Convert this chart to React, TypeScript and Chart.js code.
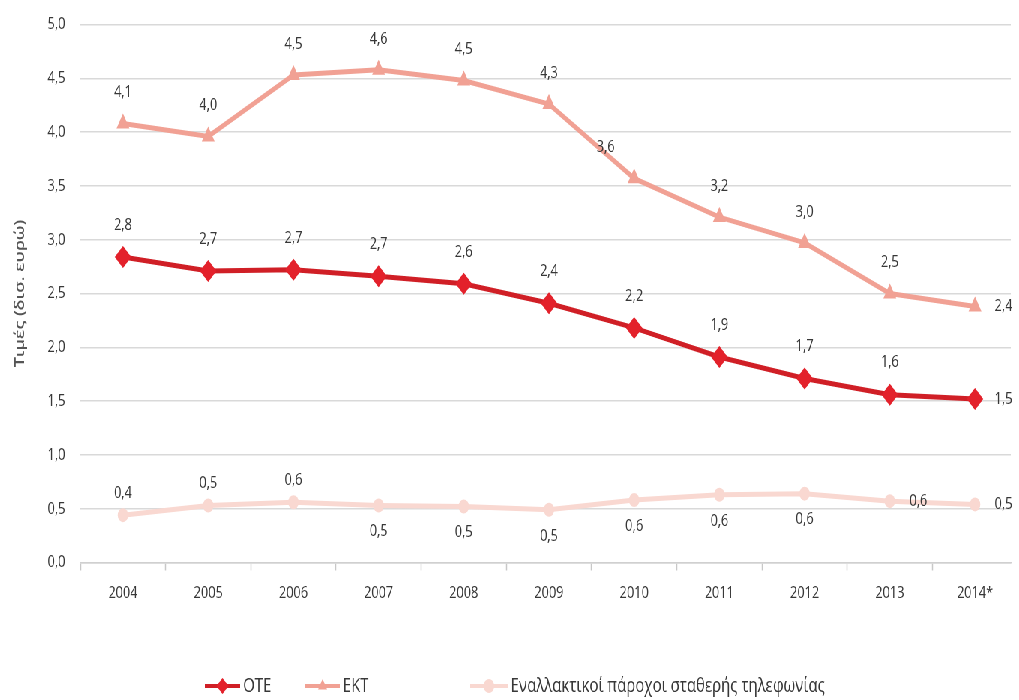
import React, { useEffect, useRef } from 'react';
import { Chart, registerables } from 'chart.js';
import { drawPoint } from 'chart.js/helpers';

Chart.register(...registerables);

// ---------- data ----------
const YEARS = ['2004', '2005', '2006', '2007', '2008', '2009', '2010', '2011', '2012', '2013', '2014*'];
const OTE = [2.84, 2.71, 2.72, 2.66, 2.59, 2.41, 2.18, 1.91, 1.71, 1.56, 1.52];
const EKT = [4.08, 3.96, 4.53, 4.58, 4.48, 4.26, 3.57, 3.21, 2.97, 2.5, 2.38];
const ALT = [0.44, 0.53, 0.56, 0.53, 0.52, 0.49, 0.58, 0.63, 0.64, 0.57, 0.54];
const SERIES_NAMES = ['ΟΤΕ', 'ΕΚΤ', 'Εναλλακτικοί πάροχοι σταθερής τηλεφωνίας'];
const Y_TITLE = 'Τιμές (δισ. ευρώ)';

// label placement per point (style): a=above, b=below, r=right, al=above-left
const LABEL_POS = [
  ['a', 'a', 'a', 'a', 'a', 'a', 'a', 'a', 'a', 'a', 'r'],
  ['a', 'a', 'a', 'a', 'a', 'a', 'al', 'a', 'a', 'a', 'r'],
  ['a', 'a', 'a', 'b', 'b', 'b', 'b', 'b', 'b', 'r', 'r'],
];

// ---------- layout / style ----------
const SX = 0.75; // horizontal squeeze of the whole picture
const CW = Math.round(1019 / SX);
const CH = 700;
const FONT = '"Open Sans", "Liberation Sans", sans-serif';
const TEXT = '#383838';
const X_MAX = YEARS.length - 1 + 0.42;

const COLORS = ['#d01f26', '#f1a194', '#f9d8d1'];
const POINT_COLORS = ['#e3212b', '#f1a194', '#f9d8d1'];
const POINT_STYLES = ['rectRot', 'triangle', 'circle'];
const POINT_RADII = [11, 10, 7];
const ABOVE_OFF = [32, 31, 22];
const BELOW_OFF = 26;
const SIDE_OFF = 38;

const fmt = (v: number) => v.toFixed(1).replace('.', ',');

const labelPlugin = {
  id: 'pointLabels',
  afterDatasetsDraw(chart: any) {
    const ctx = chart.ctx;
    ctx.save();
    ctx.font = `17px ${FONT}`;
    ctx.fillStyle = TEXT;
    ctx.textBaseline = 'middle';
    chart.data.datasets.forEach((ds: any, d: number) => {
      const meta = chart.getDatasetMeta(d);
      meta.data.forEach((pt: any, i: number) => {
        const text = fmt(ds.data[i].y);
        const pos = LABEL_POS[d][i];
        let x = pt.x;
        let y = pt.y;
        ctx.textAlign = 'center';
        if (pos === 'a') y -= ABOVE_OFF[d];
        else if (pos === 'b') y += BELOW_OFF;
        else if (pos === 'r') x += SIDE_OFF;
        else if (pos === 'al') {
          x -= SIDE_OFF;
          y -= 31;
        }
        ctx.fillText(text, x, y);
      });
    });
    ctx.restore();
  },
};

const LEGEND_X = [273, 407, 627]; // line start (canvas px)
const LEGEND_LINE = [47, 46, 50];
const LEGEND_Y = 686;

const legendPlugin = {
  id: 'customLegend',
  afterDraw(chart: any) {
    const ctx = chart.ctx;
    ctx.save();
    chart.data.datasets.forEach((ds: any, d: number) => {
      const x0 = LEGEND_X[d];
      const x1 = x0 + LEGEND_LINE[d];
      ctx.strokeStyle = COLORS[d];
      ctx.lineWidth = 4;
      ctx.beginPath();
      ctx.moveTo(x0, LEGEND_Y);
      ctx.lineTo(x1, LEGEND_Y);
      ctx.stroke();
      ctx.fillStyle = POINT_COLORS[d];
      ctx.strokeStyle = POINT_COLORS[d];
      drawPoint(ctx, { pointStyle: POINT_STYLES[d], radius: d === 0 ? 8 : 7, rotation: 0, borderWidth: 0 } as any, (x0 + x1) / 2, LEGEND_Y);
      ctx.fillStyle = TEXT;
      ctx.font = `20px ${FONT}`;
      ctx.textAlign = 'left';
      ctx.textBaseline = 'middle';
      ctx.fillText(ds.label, x1 + 4, LEGEND_Y);
    });
    ctx.restore();
  },
};

export default function App() {
  const ref = useRef<HTMLCanvasElement>(null);
  useEffect(() => {
    const series = [OTE, EKT, ALT];
    const chart = new Chart(ref.current as HTMLCanvasElement, {
      type: 'line',
      data: {
        datasets: series.map((vals, d) => ({
          label: SERIES_NAMES[d],
          data: vals.map((v, i) => ({ x: i, y: v })),
          borderColor: COLORS[d],
          backgroundColor: POINT_COLORS[d],
          pointBackgroundColor: POINT_COLORS[d],
          pointBorderColor: POINT_COLORS[d],
          pointBorderWidth: 0,
          pointStyle: POINT_STYLES[d] as any,
          pointRadius: POINT_RADII[d],
          borderWidth: 5,
          tension: 0,
          fill: false,
        })),
      },
      options: {
        animation: false,
        responsive: false,
        devicePixelRatio: 1,
        layout: { padding: { top: 24.5, right: 0, bottom: 97.5, left: 0 } },
        plugins: {
          legend: { display: false },
          tooltip: { enabled: false },
        },
        scales: {
          x: {
            type: 'linear',
            min: -0.5,
            max: X_MAX,
            afterBuildTicks: (s: any) => {
              const t: any[] = [];
              for (let v = -0.5; v <= s.max + 1e-9; v += 0.5) t.push({ value: v });
              s.ticks = t;
            },
            afterFit: (s: any) => {
              s.height = 40;
              s.paddingLeft = 0;
              s.paddingRight = 0;
            },
            grid: {
              drawOnChartArea: false,
              drawTicks: true,
              tickLength: 8,
              tickWidth: 1.5,
              tickColor: (c: any) => (Number.isInteger(c.tick?.value) ? 'rgba(0,0,0,0)' : '#c8c8c8'),
            },
            border: { display: true, color: '#d0d0d0', width: 1.5 },
            ticks: {
              autoSkip: false,
              maxRotation: 0,
              minRotation: 0,
              padding: 12,
              color: TEXT,
              font: { size: 17, family: FONT },
              callback: (v: any) => (Number.isInteger(v) ? YEARS[v] : ''),
            },
          },
          y: {
            min: 0,
            max: 5,
            afterFit: (s: any) => {
              s.width = 107;
              s.paddingTop = 0;
              s.paddingBottom = 0;
            },
            grid: { color: '#d9d9d9', lineWidth: 1.5, drawTicks: false },
            border: { display: false },
            ticks: {
              stepSize: 0.5,
              padding: 20,
              color: TEXT,
              font: { size: 17, family: FONT },
              callback: (v: any) => fmt(Number(v)),
            },
            title: {
              display: true,
              text: Y_TITLE,
              color: '#555555',
              font: { size: 18, family: FONT, weight: '600' },
              padding: { top: 16, bottom: 0 },
            },
          },
        },
      },
      plugins: [labelPlugin, legendPlugin],
    });
    return () => chart.destroy();
  }, []);

  return (
    <div
      style={{
        position: 'fixed',
        left: 0,
        top: 0,
        width: CW,
        height: CH,
        transform: `scaleX(${SX})`,
        transformOrigin: '0 0',
        background: '#fff',
      }}
    >
      <canvas ref={ref} width={CW} height={CH} style={{ display: 'block', width: CW, height: CH }} />
    </div>
  );
}
